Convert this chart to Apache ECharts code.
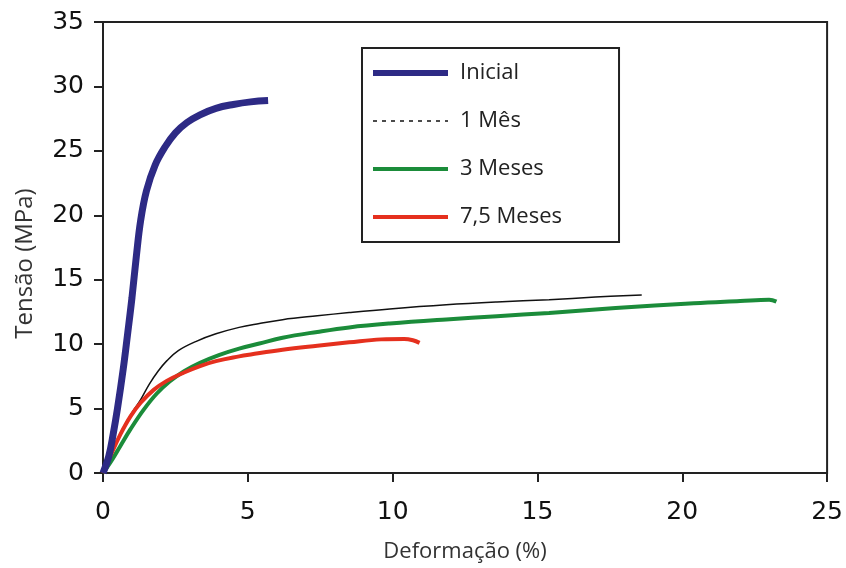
<!DOCTYPE html>
<html>
<head>
<meta charset="utf-8">
<script src="https://cdn.jsdelivr.net/npm/echarts@6/dist/echarts.min.js"></script>
<style>
  html, body { margin: 0; padding: 0; background: #fff; }
  #chart { width: 846px; height: 568px; }
</style>
</head>
<body>
<div id="chart"></div>
<script>
// Stress–strain curves: [deformação (%), tensão (MPa)]
const inicial = [[0,0],[0.2,1.3],[0.35,3.0],[0.5,5.0],[0.7,8.1],[0.85,10.8],[1.0,13.6],[1.15,16.8],[1.3,19.6],[1.5,21.9],[1.8,23.9],[2.14,25.3],[2.5,26.4],[2.9,27.2],[3.35,27.8],[3.9,28.3],[4.5,28.6],[5.1,28.8],[5.7,28.9]];
const umMes = [[0,0],[0.3,1.6],[0.6,3.1],[0.95,4.5],[1.3,5.7],[1.6,6.9],[1.9,7.9],[2.2,8.7],[2.6,9.5],[3.2,10.2],[3.9,10.8],[4.7,11.3],[5.4,11.6],[6.2,11.9],[7.4,12.2],[8.5,12.45],[9.9,12.73],[11.85,13.05],[13.6,13.27],[15.4,13.45],[17.0,13.65],[18.6,13.82]];
const tresMeses = [[0,0],[0.25,0.8],[0.6,2.1],[0.95,3.4],[1.4,4.9],[1.85,6.15],[2.3,7.1],[2.8,7.9],[3.35,8.55],[4.0,9.15],[4.7,9.65],[5.4,10.05],[6.2,10.5],[7.4,10.95],[8.5,11.3],[9.9,11.6],[11.85,11.92],[13.6,12.17],[15.4,12.42],[17.7,12.8],[20.4,13.18],[22.0,13.35],[23.0,13.45],[23.25,13.3]];
const seteMeioMeses = [[0,0],[0.25,1.3],[0.6,3.0],[0.95,4.4],[1.3,5.45],[1.75,6.45],[2.2,7.15],[2.8,7.8],[3.35,8.3],[3.9,8.68],[4.7,9.05],[5.1,9.2],[6.2,9.57],[7.4,9.88],[8.5,10.14],[9.6,10.37],[10.4,10.4],[10.7,10.3],[10.93,10.1]];

const xAxisTitle = 'Deformação (%)';
const yAxisTitle = 'Tensão (MPa)';

const colors = {
  'Inicial': '#2d2a85',
  '1 Mês': '#111111',
  '3 Meses': '#1b8c3a',
  '7,5 Meses': '#e5301e'
};
const widths = { 'Inicial': 7, '1 Mês': 1.5, '3 Meses': 4, '7,5 Meses': 4 };

function lineSeries(name, data, z) {
  return {
    name: name,
    type: 'line',
    data: data,
    symbol: 'none',
    smooth: 0.4,
    z: z,
    lineStyle: { color: colors[name], width: widths[name] },
    itemStyle: { color: colors[name] }
  };
}

// legend entries show only the line sample, no marker dot
const hiddenMarker = { color: 'rgba(0,0,0,0)', borderWidth: 0, opacity: 0 };

const chart = echarts.init(document.getElementById('chart'), null, { renderer: 'canvas' });

const axisFont = { color: '#111', fontFamily: 'DejaVu Sans, sans-serif', fontSize: 25 };

chart.setOption({
  animation: false,
  backgroundColor: '#fff',
  grid: {
    left: 103, right: 18, top: 22, bottom: 95,
    show: true, borderColor: '#222', borderWidth: 2, backgroundColor: 'transparent'
  },
  legend: {
    orient: 'vertical',
    left: 362, top: 48,
    padding: [14, 57, 14, 8],
    itemWidth: 75,
    itemHeight: 22,
    itemGap: 26,
    borderColor: '#222',
    borderWidth: 2,
    backgroundColor: '#fff',
    textStyle: { color: '#222', fontFamily: 'Open Sans, Noto Sans, sans-serif', fontSize: 22, lineHeight: 22, padding: [0, 0, 0, 7] },
    data: [
      { name: 'Inicial', itemStyle: hiddenMarker, lineStyle: { width: 6, color: colors['Inicial'] } },
      { name: '1 Mês', itemStyle: hiddenMarker, lineStyle: { width: 1.5, color: '#111', type: [4, 5] } },
      { name: '3 Meses', itemStyle: hiddenMarker, lineStyle: { width: 4, color: colors['3 Meses'] } },
      { name: '7,5 Meses', itemStyle: hiddenMarker, lineStyle: { width: 4, color: colors['7,5 Meses'] } }
    ]
  },
  xAxis: {
    type: 'value',
    min: 0, max: 25, interval: 5,
    name: xAxisTitle,
    nameLocation: 'middle',
    nameGap: 68,
    nameTextStyle: { color: '#333', fontFamily: 'Open Sans, Noto Sans, sans-serif', fontSize: 22 },
    axisLine: { onZero: false, lineStyle: { color: '#222', width: 2 } },
    axisTick: { length: 9, lineStyle: { color: '#222', width: 2 } },
    axisLabel: Object.assign({ margin: 27 }, axisFont),
    splitLine: { show: false }
  },
  yAxis: {
    type: 'value',
    min: 0, max: 35, interval: 5,
    name: yAxisTitle,
    nameLocation: 'middle',
    nameGap: 66,
    nameTextStyle: { color: '#333', fontFamily: 'Open Sans, Noto Sans, sans-serif', fontSize: 24, padding: [0, 32, 0, 0] },
    axisLine: { show: true, onZero: false, lineStyle: { color: '#222', width: 2 } },
    axisTick: { show: true, length: 9, lineStyle: { color: '#222', width: 2 } },
    axisLabel: Object.assign({ margin: 19 }, axisFont),
    splitLine: { show: false }
  },
  series: [
    lineSeries('1 Mês', umMes, 2),
    lineSeries('3 Meses', tresMeses, 3),
    lineSeries('7,5 Meses', seteMeioMeses, 4),
    lineSeries('Inicial', inicial, 5)
  ]
});
</script>
</body>
</html>
